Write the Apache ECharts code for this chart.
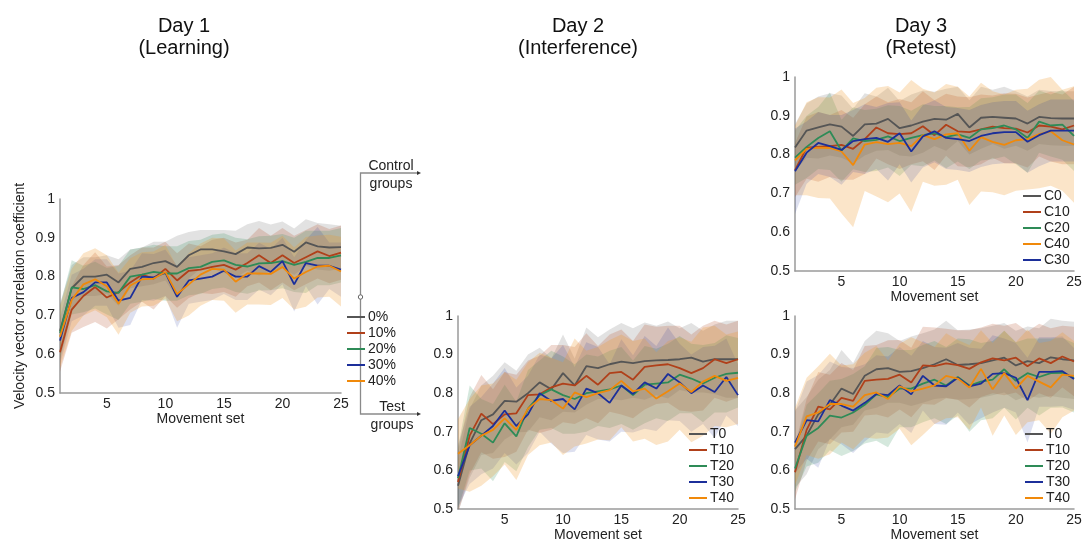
<!DOCTYPE html>
<html><head><meta charset="utf-8">
<script src="https://cdn.jsdelivr.net/npm/echarts@6/dist/echarts.min.js"></script>
<style>html,body{margin:0;padding:0;background:#fff}#c{width:1085px;height:543px}</style>
</head><body><div id="c"></div>
<script>
const movementSets = ['1','2','3','4','5','6','7','8','9','10','11','12','13','14','15','16','17','18','19','20','21','22','23','24','25'];
const yTicks = [0.5, 0.6, 0.7, 0.8, 0.9, 1];

// Day 1 (Learning)
const d1Names = ['0%','10%','20%','30%','40%'];
const d1_0  = [0.66,0.77,0.80,0.80,0.805,0.785,0.82,0.825,0.835,0.84,0.825,0.855,0.87,0.87,0.865,0.858,0.875,0.873,0.874,0.882,0.864,0.888,0.878,0.875,0.876];
const d1_10 = [0.605,0.715,0.75,0.773,0.746,0.76,0.785,0.805,0.795,0.82,0.79,0.815,0.818,0.825,0.83,0.818,0.835,0.855,0.835,0.855,0.835,0.85,0.865,0.853,0.862];
const d1_20 = [0.655,0.772,0.768,0.778,0.762,0.758,0.80,0.805,0.812,0.808,0.808,0.822,0.825,0.838,0.842,0.83,0.826,0.834,0.835,0.84,0.83,0.838,0.848,0.848,0.855];
const d1_30 = [0.635,0.745,0.76,0.785,0.785,0.738,0.745,0.80,0.798,0.81,0.748,0.79,0.795,0.80,0.815,0.80,0.80,0.827,0.812,0.84,0.78,0.835,0.828,0.828,0.818];
const d1_40 = [0.645,0.74,0.78,0.793,0.775,0.73,0.777,0.793,0.795,0.812,0.755,0.78,0.805,0.82,0.818,0.787,0.808,0.808,0.807,0.825,0.795,0.812,0.826,0.828,0.813];
const d1sd_0  = [0.07,0.06,0.05,0.05,0.05,0.06,0.05,0.05,0.055,0.05,0.08,0.06,0.05,0.05,0.055,0.06,0.06,0.07,0.06,0.06,0.06,0.06,0.06,0.06,0.055];
const d1sd_10 = [0.05,0.06,0.08,0.09,0.08,0.07,0.07,0.07,0.08,0.07,0.07,0.07,0.06,0.07,0.07,0.07,0.06,0.07,0.07,0.07,0.07,0.07,0.07,0.07,0.07];
const d1sd_20 = [0.07,0.07,0.06,0.06,0.06,0.07,0.07,0.07,0.07,0.07,0.07,0.07,0.07,0.07,0.07,0.07,0.07,0.07,0.07,0.07,0.07,0.08,0.07,0.07,0.07];
const d1sd_30 = [0.06,0.06,0.06,0.06,0.06,0.07,0.07,0.06,0.06,0.06,0.08,0.06,0.06,0.06,0.06,0.06,0.06,0.06,0.06,0.06,0.07,0.06,0.1,0.06,0.07];
const d1sd_40 = [0.08,0.08,0.08,0.08,0.08,0.08,0.07,0.07,0.07,0.07,0.07,0.08,0.08,0.08,0.08,0.08,0.08,0.08,0.08,0.08,0.08,0.09,0.08,0.08,0.09];

// Day 2 (Interference)
const d2Names = ['T0','T10','T20','T30','T40'];
const d2_0  = [0.56,0.67,0.73,0.745,0.78,0.778,0.80,0.828,0.81,0.852,0.82,0.87,0.865,0.875,0.882,0.878,0.883,0.885,0.886,0.888,0.892,0.882,0.888,0.888,0.888];
const d2_10 = [0.57,0.69,0.747,0.72,0.745,0.748,0.795,0.797,0.815,0.825,0.82,0.845,0.822,0.852,0.855,0.835,0.868,0.872,0.875,0.865,0.852,0.865,0.888,0.878,0.888];
const d2_20 = [0.58,0.71,0.695,0.672,0.722,0.688,0.76,0.795,0.81,0.795,0.785,0.80,0.805,0.81,0.82,0.795,0.822,0.825,0.828,0.848,0.838,0.825,0.84,0.85,0.853];
const d2_30 = [0.585,0.665,0.69,0.715,0.755,0.715,0.745,0.80,0.78,0.785,0.758,0.812,0.80,0.775,0.82,0.798,0.828,0.812,0.85,0.828,0.80,0.82,0.803,0.842,0.795];
const d2_40 = [0.643,0.665,0.69,0.705,0.735,0.705,0.76,0.785,0.782,0.76,0.802,0.79,0.80,0.808,0.832,0.805,0.812,0.786,0.805,0.825,0.803,0.83,0.845,0.832,0.84];
const d2sd_0  = [0.07,0.09,0.09,0.1,0.1,0.08,0.1,0.09,0.08,0.1,0.07,0.1,0.08,0.09,0.1,0.09,0.1,0.09,0.1,0.08,0.09,0.08,0.09,0.1,0.1];
const d2sd_10 = [0.08,0.1,0.1,0.09,0.11,0.1,0.09,0.1,0.11,0.1,0.1,0.11,0.1,0.1,0.11,0.1,0.11,0.1,0.1,0.11,0.1,0.11,0.1,0.1,0.1];
const d2sd_20 = [0.08,0.11,0.09,0.1,0.1,0.09,0.1,0.09,0.1,0.1,0.09,0.1,0.09,0.1,0.1,0.09,0.1,0.09,0.1,0.1,0.09,0.1,0.09,0.1,0.09];
const d2sd_30 = [0.08,0.1,0.1,0.11,0.11,0.1,0.1,0.1,0.11,0.14,0.11,0.12,0.12,0.1,0.12,0.1,0.12,0.11,0.12,0.1,0.1,0.1,0.12,0.1,0.08];
const d2sd_40 = [0.09,0.12,0.13,0.12,0.12,0.13,0.12,0.12,0.11,0.12,0.14,0.12,0.12,0.13,0.12,0.13,0.13,0.12,0.13,0.12,0.13,0.14,0.13,0.12,0.12];

// Day 3 (Retest) - control groups
const d3cNames = ['C0','C10','C20','C40','C30'];
const d3c_0  = [0.818,0.862,0.87,0.878,0.872,0.848,0.878,0.88,0.892,0.868,0.875,0.885,0.892,0.89,0.905,0.87,0.895,0.897,0.895,0.893,0.88,0.897,0.894,0.893,0.893];
const d3c_10 = [0.76,0.818,0.82,0.822,0.825,0.815,0.84,0.87,0.855,0.853,0.855,0.873,0.85,0.877,0.86,0.858,0.865,0.872,0.868,0.867,0.857,0.875,0.872,0.865,0.875];
const d3c_20 = [0.792,0.82,0.843,0.86,0.81,0.842,0.835,0.838,0.847,0.835,0.843,0.85,0.855,0.845,0.852,0.843,0.865,0.868,0.875,0.865,0.843,0.885,0.875,0.877,0.848];
const d3c_40 = [0.785,0.815,0.818,0.817,0.808,0.773,0.826,0.832,0.827,0.83,0.822,0.85,0.84,0.852,0.855,0.81,0.845,0.833,0.825,0.837,0.84,0.853,0.86,0.837,0.826];
const d3c_30 = [0.757,0.805,0.83,0.822,0.812,0.835,0.84,0.843,0.833,0.855,0.808,0.847,0.86,0.843,0.84,0.835,0.848,0.855,0.858,0.858,0.833,0.85,0.862,0.862,0.862];
const d3csd_0  = [0.06,0.07,0.08,0.08,0.08,0.07,0.08,0.07,0.08,0.07,0.08,0.08,0.07,0.08,0.07,0.07,0.08,0.07,0.08,0.07,0.07,0.07,0.07,0.07,0.07];
const d3csd_10 = [0.07,0.08,0.09,0.08,0.09,0.08,0.09,0.08,0.08,0.09,0.08,0.09,0.09,0.08,0.09,0.09,0.09,0.08,0.09,0.09,0.09,0.08,0.09,0.09,0.1];
const d3csd_20 = [0.07,0.08,0.08,0.1,0.08,0.08,0.08,0.08,0.08,0.09,0.07,0.08,0.07,0.08,0.07,0.08,0.08,0.08,0.08,0.09,0.09,0.08,0.08,0.09,0.09];
const d3csd_40 = [0.09,0.12,0.13,0.13,0.16,0.16,0.12,0.14,0.15,0.13,0.17,0.12,0.12,0.13,0.12,0.14,0.14,0.13,0.13,0.13,0.13,0.14,0.14,0.13,0.15];
const d3csd_30 = [0.11,0.08,0.08,0.08,0.09,0.08,0.09,0.08,0.1,0.08,0.08,0.08,0.08,0.08,0.08,0.08,0.08,0.08,0.08,0.08,0.08,0.08,0.08,0.08,0.08];

// Day 3 (Retest) - test groups
const d3tNames = ['T0','T10','T20','T30','T40'];
const d3t_0  = [0.655,0.69,0.745,0.77,0.812,0.798,0.845,0.862,0.865,0.855,0.857,0.865,0.875,0.888,0.873,0.875,0.878,0.885,0.892,0.872,0.883,0.878,0.893,0.888,0.885];
const d3t_10 = [0.595,0.705,0.765,0.758,0.788,0.78,0.832,0.835,0.837,0.848,0.828,0.872,0.87,0.877,0.873,0.863,0.88,0.89,0.885,0.892,0.87,0.89,0.878,0.895,0.882];
const d3t_20 = [0.605,0.69,0.71,0.742,0.737,0.75,0.77,0.797,0.79,0.812,0.812,0.825,0.835,0.82,0.842,0.82,0.83,0.835,0.862,0.832,0.852,0.842,0.852,0.853,0.84];
const d3t_30 = [0.672,0.73,0.727,0.782,0.768,0.755,0.775,0.798,0.795,0.82,0.797,0.845,0.82,0.818,0.84,0.818,0.825,0.85,0.852,0.84,0.782,0.855,0.855,0.857,0.837];
const d3t_40 = [0.662,0.74,0.75,0.772,0.772,0.765,0.795,0.802,0.785,0.818,0.805,0.812,0.82,0.845,0.838,0.815,0.863,0.81,0.852,0.812,0.845,0.83,0.815,0.848,0.845];
const d3tsd_0  = [0.1,0.1,0.09,0.09,0.1,0.08,0.09,0.1,0.09,0.08,0.09,0.09,0.09,0.1,0.09,0.09,0.09,0.09,0.09,0.09,0.09,0.09,0.1,0.1,0.1];
const d3tsd_10 = [0.07,0.08,0.09,0.09,0.09,0.08,0.09,0.09,0.1,0.09,0.09,0.1,0.1,0.09,0.09,0.1,0.09,0.09,0.09,0.09,0.09,0.09,0.09,0.08,0.09];
const d3tsd_20 = [0.06,0.08,0.09,0.09,0.1,0.1,0.1,0.12,0.13,0.1,0.1,0.1,0.1,0.1,0.1,0.12,0.1,0.1,0.1,0.1,0.09,0.1,0.09,0.09,0.09];
const d3tsd_30 = [0.08,0.1,0.12,0.1,0.1,0.11,0.1,0.1,0.1,0.1,0.1,0.09,0.1,0.1,0.09,0.1,0.09,0.1,0.09,0.09,0.11,0.09,0.09,0.09,0.08];
const d3tsd_40 = [0.1,0.1,0.12,0.13,0.1,0.11,0.11,0.12,0.1,0.11,0.14,0.12,0.1,0.11,0.1,0.11,0.1,0.12,0.11,0.12,0.12,0.1,0.12,0.11,0.09];

const lineColors = ['#555555','#b0401a','#2e8b57','#1c2f9a','#f0890a'];
const bandColors = ['rgba(150,150,150,0.28)','rgba(176,64,26,0.2)','rgba(46,139,87,0.2)','rgba(28,47,154,0.15)','rgba(240,150,40,0.25)'];

const FONT = 'Liberation Sans, Arial, sans-serif';
const panels = [
  {grid:{left:60, top:199, width:281, height:194}, names:d1Names, means:[d1_0,d1_10,d1_20,d1_30,d1_40], sds:[d1sd_0,d1sd_10,d1sd_20,d1sd_30,d1sd_40], colorIdx:[0,1,2,3,4], yName:'Velocity vector correlation coefficient', legend:{left:347, top:310}},
  {grid:{left:458, top:316, width:280, height:194}, names:d2Names, means:[d2_0,d2_10,d2_20,d2_30,d2_40], sds:[d2sd_0,d2sd_10,d2sd_20,d2sd_30,d2sd_40], colorIdx:[0,1,2,3,4], legend:{left:689, top:427}},
  {grid:{left:795, top:77, width:279, height:194}, names:d3cNames, means:[d3c_0,d3c_10,d3c_20,d3c_40,d3c_30], sds:[d3csd_0,d3csd_10,d3csd_20,d3csd_40,d3csd_30], colorIdx:[0,1,2,4,3], legend:{left:1023, top:189}},
  {grid:{left:795, top:316, width:279, height:194}, names:d3tNames, means:[d3t_0,d3t_10,d3t_20,d3t_30,d3t_40], sds:[d3tsd_0,d3tsd_10,d3tsd_20,d3tsd_30,d3tsd_40], colorIdx:[0,1,2,3,4], legend:{left:1025, top:427}}
];

const grids=[], xAxes=[], yAxes=[], series=[], legends=[];
const axisLineColor = '#9a9a9a';
panels.forEach((p, gi) => {
  grids.push(Object.assign({containLabel:false}, p.grid));
  xAxes.push({type:'category', gridIndex:gi, data:movementSets, boundaryGap:false,
    axisLine:{lineStyle:{color:axisLineColor, width:1.5}}, axisTick:{show:false},
    axisLabel:{interval:(i,v)=> (+v)%5===0, color:'#222', fontSize:14, fontFamily:FONT, margin:4},
    name:'Movement set', nameLocation:'middle', nameGap:19, nameTextStyle:{color:'#222', fontSize:14, fontFamily:FONT},
    splitLine:{show:false}});
  yAxes.push({type:'value', gridIndex:gi, min:yTicks[0], max:yTicks[yTicks.length-1], interval:0.1,
    axisLine:{show:true, lineStyle:{color:axisLineColor, width:1.5}}, axisTick:{show:false},
    axisLabel:{color:'#222', fontSize:14, fontFamily:FONT, margin:5},
    splitLine:{show:false},
    name:p.yName||'', nameLocation:'middle', nameGap:33, nameTextStyle:{color:'#222', fontSize:14, fontFamily:FONT}});
  p.means.forEach((m, k) => {
    const ci = p.colorIdx[k];
    const sd = p.sds[k];
    const lower = m.map((v,i)=> +(v - sd[i]).toFixed(4));
    const width = sd.map(s=> +(2*s).toFixed(4));
    const st = 'band_'+gi+'_'+k;
    series.push({type:'line', name:p.names[k]+' lower', xAxisIndex:gi, yAxisIndex:gi, data:lower, stack:st,
      symbol:'none', lineStyle:{width:0, opacity:0}, silent:true, z:1});
    series.push({type:'line', name:p.names[k]+' band', xAxisIndex:gi, yAxisIndex:gi, data:width, stack:st,
      symbol:'none', lineStyle:{width:0, opacity:0}, areaStyle:{color:bandColors[ci], opacity:1}, silent:true, z:1});
  });
  p.means.forEach((m, k) => {
    const ci = p.colorIdx[k];
    series.push({type:'line', name:p.names[k], xAxisIndex:gi, yAxisIndex:gi, data:m,
      symbol:'none', lineStyle:{width:1.8, color:lineColors[ci]}, itemStyle:{color:lineColors[ci]}, z:3});
  });
  legends.push({data:p.names, orient:'vertical', left:p.legend.left, top:p.legend.top, padding:0,
    icon:'rect', itemWidth:18, itemHeight:2, itemGap:2, selectedMode:false,
    textStyle:{color:'#222', fontSize:14, fontFamily:FONT, padding:[0,0,0,-2]}});
});

const titleFont = '20px ' + FONT;
const graphic = [
  {type:'text', x:184, y:15, style:{text:'Day 1\n(Learning)', textAlign:'center', font:titleFont, fill:'#111', lineHeight:22}},
  {type:'text', x:578, y:15, style:{text:'Day 2\n(Interference)', textAlign:'center', font:titleFont, fill:'#111', lineHeight:22}},
  {type:'text', x:921, y:15, style:{text:'Day 3\n(Retest)', textAlign:'center', font:titleFont, fill:'#111', lineHeight:22}},
  {type:'polyline', shape:{points:[[419,173],[360.5,173],[360.5,414],[419,414]]}, style:{stroke:'#8a8a8a', lineWidth:1.3, fill:null}},
  {type:'polygon', shape:{points:[[417,171],[421,173],[417,175]]}, style:{fill:'#333'}},
  {type:'polygon', shape:{points:[[417,412],[421,414],[417,416]]}, style:{fill:'#333'}},
  {type:'circle', shape:{cx:360.5, cy:297, r:2.2}, style:{fill:'#fff', stroke:'#666', lineWidth:1}},
  {type:'text', x:391, y:157, style:{text:'Control\ngroups', textAlign:'center', font:'14px '+FONT, fill:'#222', lineHeight:18}},
  {type:'text', x:392, y:398, style:{text:'Test\ngroups', textAlign:'center', font:'14px '+FONT, fill:'#222', lineHeight:18}}
];

const chart = echarts.init(document.getElementById('c'), null, {renderer:'canvas'});
chart.setOption({
  animation:false, backgroundColor:'#fff',
  grid:grids, xAxis:xAxes, yAxis:yAxes, series:series, legend:legends, graphic:graphic,
  textStyle:{fontFamily:FONT}
});
</script></body></html>
